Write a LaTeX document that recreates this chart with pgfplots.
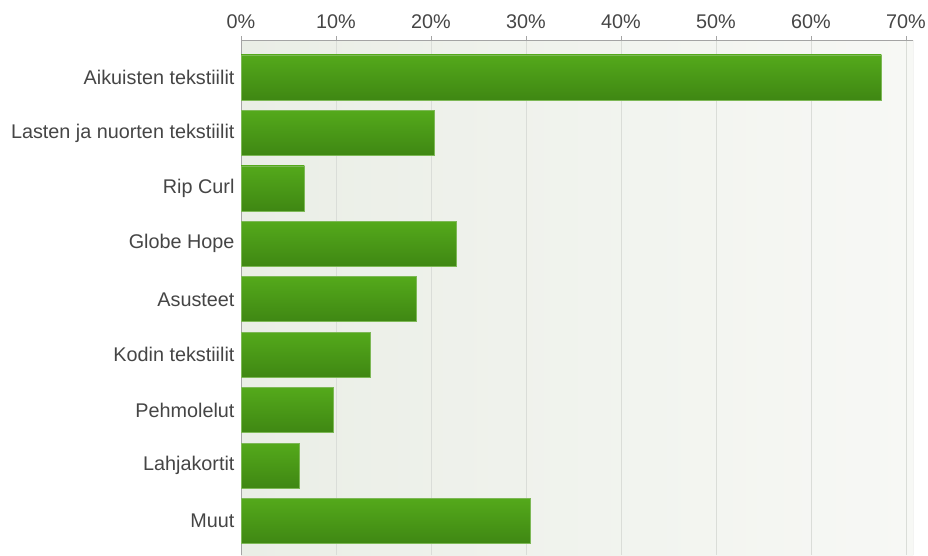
\documentclass[border=0pt]{standalone}
\usepackage{fontspec}
\setmainfont{Liberation Sans}
\usepackage{pgfplots}
\pgfplotsset{compat=1.18}
\definecolor{txt}{HTML}{454545}
\definecolor{barTop}{HTML}{54A91B}
\definecolor{barBot}{HTML}{3F8713}
\definecolor{barEdge}{HTML}{7DB856}
\definecolor{bgL}{HTML}{EAEEE6}
\definecolor{bgR}{HTML}{F7F8F5}
\definecolor{gridc}{HTML}{DADDD8}
\definecolor{axc}{HTML}{A4A4A4}
\pgfplotsset{gbar/.style={xbar, bar width=45pt, bar shift=0pt, draw=barEdge, line width=0.8pt, top color=barTop, bottom color=barBot}}
\begin{document}
\begin{tikzpicture}[x=1pt,y=1pt]
\useasboundingbox (0,0) rectangle (928,555);
\begin{axis}[
  at={(241pt,515pt)}, anchor=north west,
  scale only axis, width=672pt, height=515pt,
  xmin=0, xmax=70.74,
  ymin=-0.676, ymax=8.61, y dir=reverse,
  axis x line=top, axis y line=left,
  axis line style={-, draw=axc, line width=0.8pt},
  xtick={0,10,...,70},
  xticklabels={0\%,10\%,20\%,30\%,40\%,50\%,60\%,70\%},
  xtick align=outside, major tick length=4pt,
  x tick style={draw=axc, line width=0.8pt},
  xmajorgrids, grid style={draw=gridc, line width=0.8pt},
  ytick={0,...,8},
  yticklabels={Aikuisten tekstiilit, Lasten ja nuorten tekstiilit, Rip Curl, Globe Hope, Asusteet, Kodin tekstiilit, Pehmolelut, Lahjakortit, Muut},
  y tick style={draw=none},
  tick label style={font=\fontsize{19.8}{21}\selectfont, text=txt},
  xticklabel style={yshift=4pt},
  yticklabel style={xshift=-1pt},
  /pgf/number format/assume math mode=true,
  axis background/.style={left color=bgL, right color=bgR},
  clip=true,
]
\addplot[gbar] coordinates {(67.4,0)};
\addplot[gbar] coordinates {(20.35,1)};
\addplot[gbar] coordinates {(6.67,2)};
\addplot[gbar] coordinates {(22.7,3)};
\addplot[gbar] coordinates {(18.5,4)};
\addplot[gbar] coordinates {(13.6,5)};
\addplot[gbar] coordinates {(9.7,6)};
\addplot[gbar] coordinates {(6.1,7)};
\addplot[gbar] coordinates {(30.5,8)};
\draw[axc, line width=0.8pt] (rel axis cs:1,0) -- (rel axis cs:1,1);
\end{axis}
\end{tikzpicture}
\end{document}
